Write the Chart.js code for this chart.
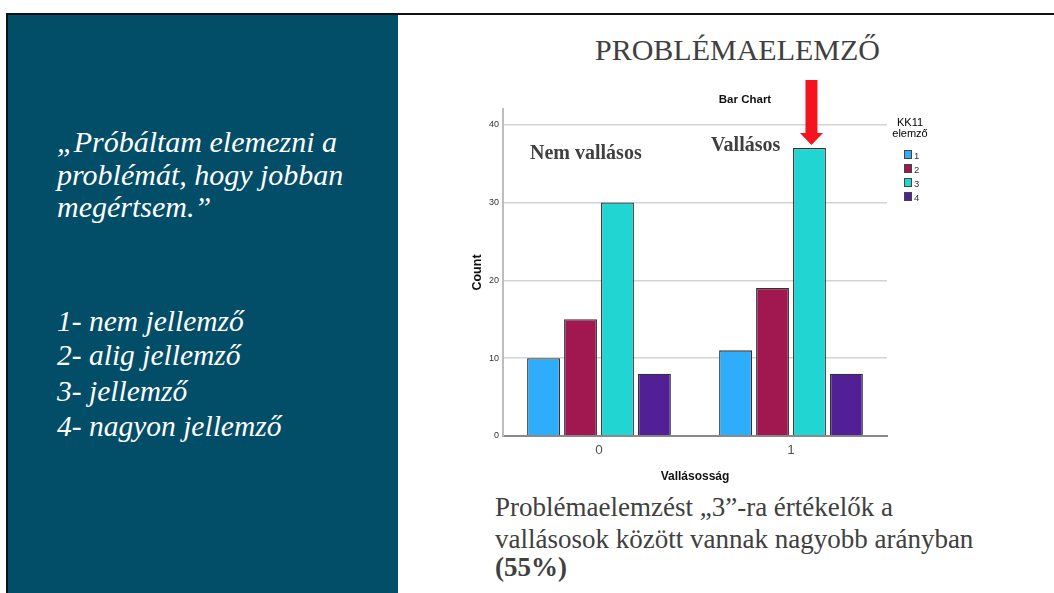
<!DOCTYPE html>
<html lang="hu">
<head>
<meta charset="utf-8">
<title>Problémaelemző</title>
<script src="https://cdn.jsdelivr.net/npm/chart.js@4.4.1/dist/chart.umd.min.js"></script>
<style>
  html, body { margin: 0; padding: 0; background: #fff; }
  body { width: 1054px; height: 593px; position: relative; overflow: hidden; }
  .frame-top { position: absolute; left: 6px; top: 13px; width: 1048px; height: 2px; background: #111; }
  .frame-left { position: absolute; left: 6px; top: 13px; width: 2px; height: 580px; background: #111; }
  .panel { position: absolute; left: 8px; top: 15px; width: 390px; height: 578px; background: #024d67; }
  .t { position: absolute; white-space: nowrap; line-height: 1; font-family: "Liberation Serif", "Times New Roman", serif; }
  .quote { color: #fff; font-style: italic; font-size: 30px; left: 57px; }
  .list { color: #fff; font-style: italic; font-size: 29.5px; left: 57px; }
  .title { color: #404040; font-size: 30px; left: 595px; top: 35px; }
  .note { color: #404040; font-size: 20px; font-weight: bold; }
  .body { color: #404040; font-size: 27px; left: 495px; }
  #chartBox { position: absolute; left: 460px; top: 70px; width: 500px; height: 420px; }
</style>
</head>
<body>
<div class="frame-top"></div>
<div class="frame-left"></div>
<div class="panel"></div>

<div class="t quote" style="top:127px">„Próbáltam elemezni a</div>
<div class="t quote" style="top:160px">problémát, hogy jobban</div>
<div class="t quote" style="top:192px">megértsem.”</div>

<div class="t list" style="top:307px">1- nem jellemző</div>
<div class="t list" style="top:341px">2- alig jellemző</div>
<div class="t list" style="top:377px">3- jellemző</div>
<div class="t list" style="top:412px">4- nagyon jellemző</div>

<div class="t title">PROBLÉMAELEMZŐ</div>

<div id="chartBox"><canvas id="bar-chart" width="500" height="420"></canvas></div>

<div class="t note" style="left:530px; top:142px">Nem vallásos</div>
<div class="t note" style="left:711px; top:134px">Vallásos</div>

<div class="t body" style="top:494px">Problémaelemzést „3”-ra értékelők a</div>
<div class="t body" style="top:526px">vallásosok között vannak nagyobb arányban</div>
<div class="t body" style="top:554px"><b>(55%)</b></div>

<script>
// Adatok (leolvasva a diagramról)
const categories = ['0', '1'];          // Vallásosság
const seriesLabels = ['1', '2', '3', '4']; // KK11 elemző
const values1 = [10, 11];
const values2 = [15, 19];
const values3 = [30, 37];
const values4 = [8, 8];
const yTicks = [0, 10, 20, 30, 40];

const seriesColors = ['#2eadfb', '#a0184f', '#20d5d2', '#511f96'];
const allValues = [values1, values2, values3, values4];

// Felirat, nyíl és jelmagyarázat rajzolása
const extrasPlugin = {
    id: 'extras',
    afterDatasetsDraw(chart) {
        const ctx = chart.ctx;

        // "Bar Chart" cím
        ctx.save();
        ctx.fillStyle = '#111';
        ctx.font = 'bold 11.5px "Liberation Sans", Arial, sans-serif';
        ctx.textAlign = 'center';
        ctx.textBaseline = 'alphabetic';
        ctx.fillText('Bar Chart', 285, 33);

        // piros nyíl a vallásos "3" oszlop fölött
        const bar = chart.getDatasetMeta(2).data[1];
        const tipX = bar.x + 2;
        const tipY = bar.y - 3;
        ctx.fillStyle = '#f5141e';
        ctx.beginPath();
        ctx.moveTo(tipX, tipY);
        ctx.lineTo(tipX - 11.5, tipY - 12);
        ctx.lineTo(tipX - 6, tipY - 12);
        ctx.lineTo(tipX - 6, 10);
        ctx.lineTo(tipX + 6, 10);
        ctx.lineTo(tipX + 6, tipY - 12);
        ctx.lineTo(tipX + 11.5, tipY - 12);
        ctx.closePath();
        ctx.fill();

        // jelmagyarázat
        ctx.fillStyle = '#000';
        ctx.font = '11px "Liberation Sans", Arial, sans-serif';
        ctx.fillText('KK11', 450, 56);
        ctx.fillText('elemző', 450, 67);
        ctx.textAlign = 'left';
        ctx.font = '9.5px "Liberation Sans", Arial, sans-serif';
        chart.data.datasets.forEach((ds, i) => {
            const top = 80 + i * 14;
            ctx.fillStyle = ds.backgroundColor;
            ctx.fillRect(444, top, 8, 9);
            ctx.strokeStyle = '#444';
            ctx.lineWidth = 1;
            ctx.strokeRect(444.5, top + 0.5, 7, 8);
            ctx.fillStyle = '#333';
            ctx.fillText(ds.label, 454, top + 9);
        });
        ctx.restore();
    }
};

new Chart(document.getElementById('bar-chart'), {
    type: 'bar',
    data: {
        labels: categories,
        datasets: seriesLabels.map((label, i) => ({
            label: label,
            data: allValues[i],
            backgroundColor: seriesColors[i],
            borderColor: '#333',
            borderWidth: 1.3,
            categoryPercentage: 0.77,
            barPercentage: 0.89
        }))
    },
    options: {
        responsive: false,
        animation: false,
        devicePixelRatio: 1,
        layout: { padding: { left: 0, right: 73, top: 39, bottom: 0 } },
        plugins: {
            legend: { display: false },
            title: { display: false },
            tooltip: { enabled: false }
        },
        scales: {
            x: {
                afterFit(scale) { scale.height = 54; },
                grid: { display: false, drawTicks: false },
                border: { color: '#8a8a8a', width: 2 },
                ticks: {
                    padding: 6,
                    color: '#555',
                    font: { family: '"Liberation Sans", Arial, sans-serif', size: 13.5 }
                },
                title: {
                    display: true,
                    text: 'Vallásosság',
                    color: '#111',
                    padding: { top: 0, bottom: 6 },
                    font: { family: '"Liberation Sans", Arial, sans-serif', size: 12, weight: 'bold' }
                }
            },
            y: {
                min: 0,
                max: 42,
                afterFit(scale) { scale.width = 43; },
                afterBuildTicks(scale) {
                    scale.ticks = yTicks.map(v => ({ value: v }));
                },
                grid: { color: '#d3d3d3', lineWidth: 1.5, drawTicks: false },
                border: { color: '#bdbdbd', width: 2 },
                ticks: {
                    padding: 4,
                    color: '#333',
                    font: { family: '"Liberation Sans", Arial, sans-serif', size: 9 }
                },
                title: {
                    display: true,
                    text: 'Count',
                    color: '#111',
                    padding: { top: 10, bottom: 0 },
                    font: { family: '"Liberation Sans", Arial, sans-serif', size: 12.5, weight: 'bold' }
                }
            }
        }
    },
    plugins: [extrasPlugin]
});
</script>
</body>
</html>
